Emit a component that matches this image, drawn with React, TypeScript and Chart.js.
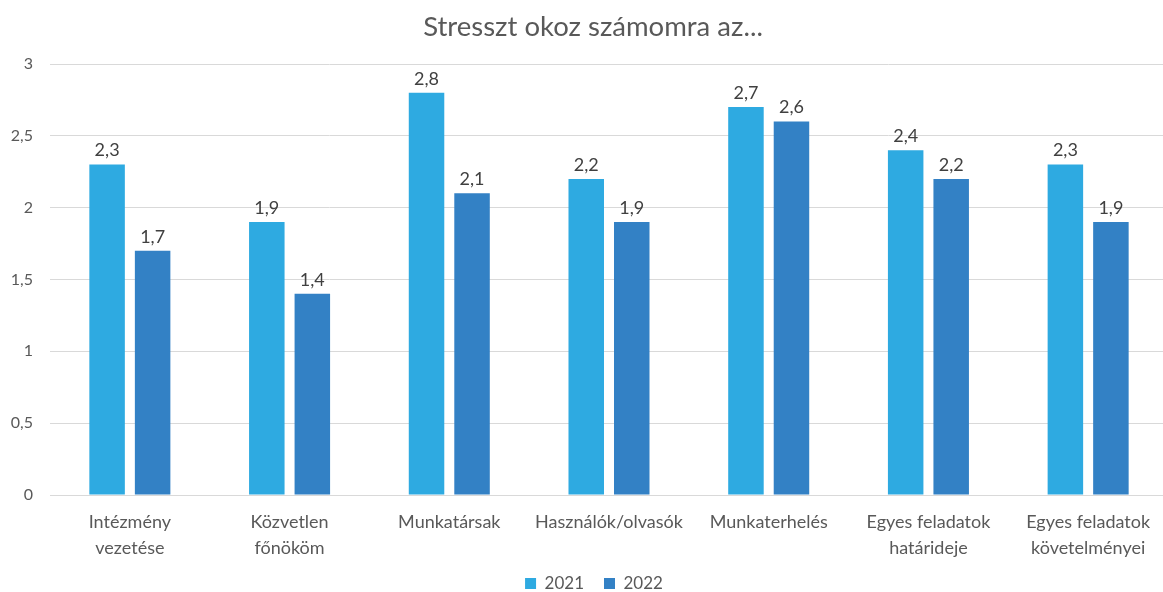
import React, { useEffect, useRef } from "react";
import { Chart, registerables } from "chart.js";

Chart.register(...registerables);

const categories: string[][] = [
  ["Intézmény", "vezetése"],
  ["Közvetlen", "főnököm"],
  ["Munkatársak"],
  ["Használók/olvasók"],
  ["Munkaterhelés"],
  ["Egyes feladatok", "határideje"],
  ["Egyes feladatok", "követelményei"],
];
const series2021 = [2.3, 1.9, 2.8, 2.2, 2.7, 2.4, 2.3];
const series2022 = [1.7, 1.4, 2.1, 1.9, 2.6, 2.2, 1.9];
const seriesNames = ["2021", "2022"];
const yTicks = [0, 0.5, 1, 1.5, 2, 2.5, 3];
const title = "Stresszt okoz számomra az...";

const FONT = "Lato, 'Open Sans', sans-serif";
const fmt = (v: number) => String(v).replace(".", ",");

const valueLabels = {
  id: "valueLabels",
  afterDatasetsDraw(chart: any) {
    const ctx = chart.ctx;
    ctx.save();
    ctx.font = `18px ${FONT}`;
    ctx.fillStyle = "#404040";
    ctx.textAlign = "center";
    ctx.textBaseline = "bottom";
    chart.data.datasets.forEach((ds: any, i: number) => {
      const meta = chart.getDatasetMeta(i);
      meta.data.forEach((bar: any, j: number) => {
        ctx.fillText(fmt(ds.data[j]), bar.x, bar.y - 5);
      });
    });
    ctx.restore();
  },
};

// nudge title and legend to match the original's placement
const shiftBlocks = {
  id: "shiftBlocks",
  afterLayout(chart: any) {
    const t = chart.titleBlock;
    if (t) {
      t.left += 9;
      t.right += 9;
    }
    const l = chart.legend;
    if (l) {
      l.left += 10;
      l.right += 10;
      l.top -= 6;
      l.bottom -= 6;
    }
  },
};

export default function App() {
  const ref = useRef<HTMLCanvasElement>(null);
  useEffect(() => {
    if (!ref.current) return;
    const chart = new Chart(ref.current, {
      type: "bar",
      data: {
        labels: categories,
        datasets: [
          {
            label: seriesNames[0],
            data: series2021,
            backgroundColor: "#2EAAE1",
            categoryPercentage: 0.57,
            barPercentage: 0.78,
          },
          {
            label: seriesNames[1],
            data: series2022,
            backgroundColor: "#3381C5",
            categoryPercentage: 0.57,
            barPercentage: 0.78,
          },
        ],
      },
      options: {
        animation: false,
        responsive: false,
        maintainAspectRatio: false,
        layout: { padding: { left: 0, right: 2, top: 0, bottom: 0 } },
        plugins: {
          title: {
            display: true,
            text: title,
            color: "#595959",
            font: { family: FONT, size: 27.5, weight: "normal" },
            padding: { top: 11, bottom: 20 },
          },
          legend: {
            position: "bottom",
            labels: {
              color: "#595959",
              font: { family: FONT, size: 17 },
              boxWidth: 11,
              boxHeight: 11,
              padding: 20,
            },
          },
          tooltip: { enabled: false },
        },
        scales: {
          x: {
            grid: { display: false },
            border: { color: "#D9D9D9" },
            afterFit(scale: any) {
              scale.height = 66;
            },
            ticks: {
              color: "#595959",
              font: { family: FONT, size: 18, lineHeight: 1.45 },
              maxRotation: 0,
              autoSkip: false,
              padding: 6,
            },
          },
          y: {
            min: 0,
            max: 3,
            afterFit(scale: any) {
              scale.width = 50;
            },
            afterBuildTicks(scale: any) {
              scale.ticks = yTicks.map((v) => ({ value: v }));
            },
            grid: { color: "#D9D9D9", drawTicks: false },
            border: { display: false },
            ticks: {
              color: "#595959",
              font: { family: FONT, size: 16 },
              padding: 17,
              callback: (v: any) => fmt(Number(v)),
            },
          },
        },
      },
      plugins: [valueLabels, shiftBlocks],
    });
    return () => chart.destroy();
  }, []);
  return (
    <div
      style={{
        position: "fixed",
        left: 0,
        top: 0,
        width: 1163,
        height: 592,
        overflow: "hidden",
        background: "#fff",
      }}
    >
      <canvas ref={ref} width={1170} height={608} style={{ display: "block" }} />
    </div>
  );
}
